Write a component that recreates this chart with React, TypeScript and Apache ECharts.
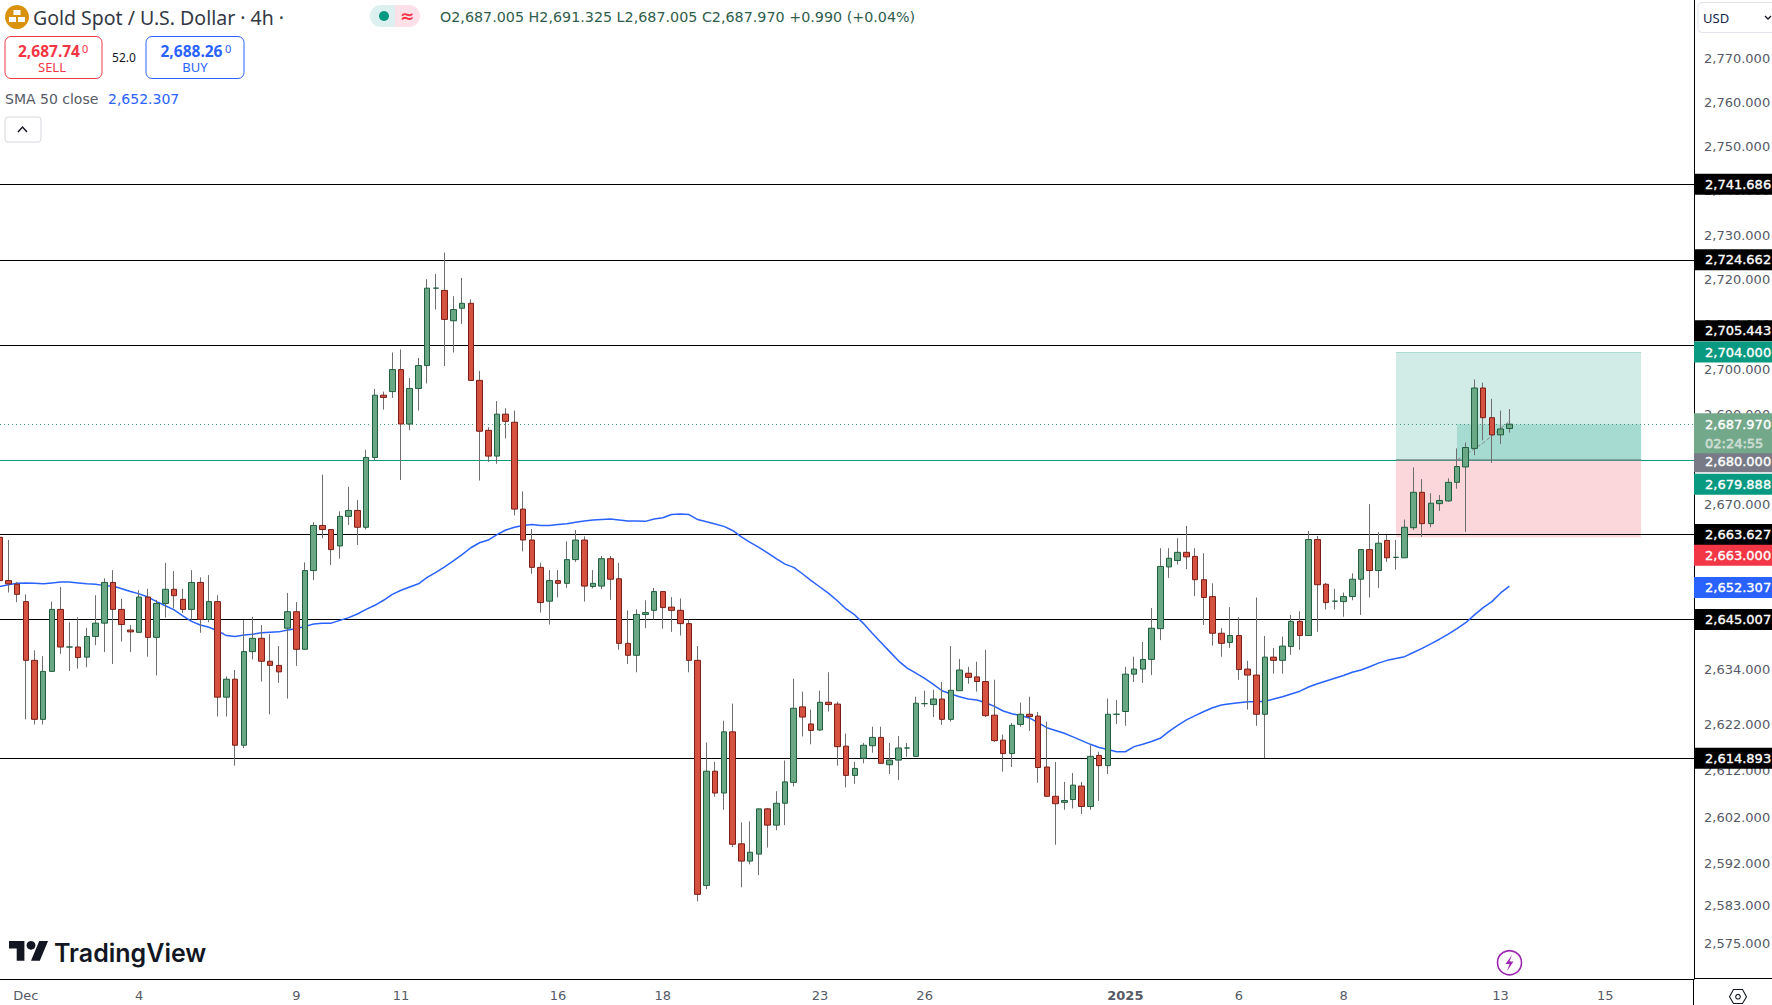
import React, { useEffect, useRef } from "react";
import * as echarts from "echarts";

const opens = [
  2663.0,2653.5,2652.7,2648.9,2636.1,2623.3,2633.7,2647.2,2639.0,2639.0,
  2636.8,2641.3,2644.2,2653.1,2647.2,2642.7,2642.2,2649.9,2641.1,2648.5,
  2651.6,2649.4,2647.2,2653.1,2645.0,2648.9,2628.1,2632.0,2617.7,2638.0,
  2640.9,2635.9,2635.0,2643.1,2646.7,2638.5,2655.7,2665.6,2664.7,2661.1,
  2667.6,2668.9,2665.2,2680.6,2694.4,2695.2,2700.1,2688.0,2695.9,2701.0,
  2718.3,2717.8,2711.0,2713.8,2714.9,2697.7,2686.6,2680.9,2690.2,2688.4,
  2669.2,2662.4,2656.4,2649.0,2653.5,2652.9,2658.1,2662.4,2652.2,2652.3,
  2658.3,2653.9,2639.8,2637.2,2646.1,2647.0,2651.1,2647.7,2647.0,2644.1,
  2636.1,2587.6,2612.1,2607.4,2620.6,2596.5,2592.8,2594.3,2604.0,2600.5,
  2605.2,2609.7,2626.0,2622.3,2621.0,2627.0,2626.6,2617.5,2611.2,2614.9,
  2617.6,2619.4,2613.5,2614.5,2617.1,2615.3,2626.7,2626.5,2627.7,2623.3,
  2629.5,2633.3,2632.5,2631.5,2624.2,2618.8,2615.9,2622.2,2624.4,2624.0,
  2613.0,2606.7,2605.4,2606.0,2608.9,2604.5,2615.5,2613.3,2624.4,2625.0,
  2633.1,2634.2,2636.3,2643.0,2656.5,2657.9,2659.7,2658.8,2653.7,2650.0,
  2642.0,2640.0,2641.5,2634.2,2632.9,2624.4,2636.8,2636.1,2639.1,2644.6,
  2641.5,2662.5,2652.7,2649.0,2648.9,2650.0,2653.8,2660.3,2655.7,2662.3,
  2658.6,2658.5,2665.1,2672.9,2666.0,2670.4,2671.0,2675.1,2678.5,2682.6,
  2696.0,2689.4,2685.6,2687.005,
];
const closes = [
  2653.5,2652.8,2650.5,2636.1,2623.3,2633.7,2647.2,2639.0,2639.0,2636.7,
  2641.3,2644.2,2653.1,2647.2,2643.9,2642.3,2649.9,2641.1,2648.5,2651.6,
  2650.2,2647.2,2653.1,2645.0,2648.9,2628.1,2632.0,2617.7,2638.0,2640.9,
  2635.9,2635.0,2633.6,2646.7,2638.5,2655.7,2665.6,2664.7,2660.3,2667.6,
  2668.9,2665.2,2680.6,2694.4,2693.9,2700.1,2688.0,2695.9,2701.0,2718.3,
  2718.3,2711.3,2713.5,2714.9,2697.7,2686.4,2680.9,2690.2,2688.6,2669.2,
  2662.4,2656.4,2648.7,2653.5,2652.9,2658.1,2662.4,2652.3,2652.9,2658.3,
  2653.8,2639.8,2637.2,2646.1,2646.5,2651.1,2647.6,2647.0,2644.1,2636.1,
  2585.7,2612.1,2607.4,2620.6,2596.4,2592.8,2594.7,2604.0,2600.5,2605.2,
  2609.8,2625.7,2623.8,2620.9,2627.0,2626.5,2617.4,2611.2,2612.7,2617.7,
  2619.4,2613.8,2614.5,2617.1,2617.1,2626.8,2626.7,2627.7,2623.3,2629.6,
  2634.0,2632.4,2631.5,2624.1,2618.7,2615.9,2622.0,2624.4,2623.9,2612.9,
  2606.7,2605.1,2605.8,2609.1,2604.5,2615.3,2613.3,2624.4,2624.4,2633.1,
  2634.2,2636.3,2643.1,2656.6,2658.4,2659.7,2658.7,2653.7,2649.8,2642.0,
  2639.8,2641.5,2634.1,2632.9,2624.4,2636.8,2636.1,2639.2,2644.6,2641.5,
  2662.5,2652.6,2648.7,2649.0,2650.0,2653.8,2660.3,2655.7,2661.7,2658.5,
  2658.6,2665.2,2672.9,2666.0,2670.5,2671.1,2675.1,2678.6,2682.8,2696.0,
  2689.4,2685.6,2686.9,2687.97,
];
const highs = [
  2663.8,2662.4,2653.2,2650.5,2638.3,2637.0,2648.9,2652.1,2644.4,2645.5,
  2643.2,2650.3,2654.0,2655.8,2649.5,2643.8,2651.4,2651.7,2649.3,2657.4,
  2655.6,2651.7,2655.8,2654.2,2654.7,2650.3,2632.6,2634.0,2644.9,2645.6,
  2643.8,2641.8,2639.2,2650.8,2648.8,2657.5,2666.3,2676.8,2664.7,2668.7,
  2674.1,2671.2,2682.3,2695.8,2695.2,2703.9,2704.6,2698.2,2702.7,2720.3,
  2721.5,2726.3,2716.5,2720.6,2715.8,2699.8,2687.3,2693.1,2691.5,2691.0,
  2673.1,2664.8,2657.4,2655.8,2655.8,2662.1,2664.6,2663.2,2655.8,2658.9,
  2658.9,2657.4,2647.0,2647.2,2649.2,2651.9,2651.1,2649.9,2649.6,2645.0,
  2639.2,2618.3,2614.1,2623.0,2626.7,2601.1,2601.3,2604.0,2604.2,2607.8,
  2614.4,2632.1,2629.3,2625.4,2629.5,2633.5,2627.1,2620.2,2614.1,2618.2,
  2621.7,2621.7,2618.2,2619.7,2618.2,2628.2,2629.5,2629.7,2631.4,2639.2,
  2636.4,2634.7,2635.8,2638.4,2631.9,2620.0,2622.5,2626.9,2628.2,2624.9,
  2622.8,2614.1,2609.8,2611.7,2609.8,2617.9,2616.3,2627.8,2627.5,2634.7,
  2636.9,2640.1,2647.5,2660.6,2660.6,2662.8,2665.5,2660.6,2659.5,2652.9,
  2643.1,2647.7,2645.5,2636.0,2649.8,2641.4,2638.8,2641.3,2646.0,2646.8,
  2664.4,2663.3,2653.0,2651.7,2650.9,2655.1,2660.3,2670.3,2664.1,2663.5,
  2662.4,2666.9,2678.4,2675.8,2672.7,2672.3,2676.0,2682.6,2683.9,2697.9,
  2697.2,2693.6,2691.0,2691.325,
];
const lows = [
  2652.9,2650.9,2648.8,2623.3,2622.2,2622.2,2633.7,2637.5,2633.8,2634.3,
  2634.6,2639.4,2637.9,2635.3,2640.2,2637.9,2642.2,2636.9,2632.8,2645.4,
  2647.4,2646.4,2645.0,2642.1,2644.4,2623.9,2623.9,2613.3,2617.1,2636.3,
  2631.5,2624.4,2631.2,2627.8,2634.9,2638.5,2653.6,2662.8,2656.9,2658.3,
  2665.7,2661.3,2664.7,2680.0,2691.2,2693.8,2675.6,2686.6,2691.0,2697.0,
  2713.5,2700.9,2703.9,2710.3,2697.7,2675.5,2679.6,2679.2,2684.8,2667.8,
  2659.9,2655.0,2646.5,2643.9,2649.8,2651.9,2657.6,2648.9,2651.8,2651.6,
  2649.3,2638.4,2635.3,2633.5,2643.1,2645.0,2643.0,2642.3,2641.5,2633.5,
  2584.2,2586.8,2606.6,2603.8,2595.8,2587.2,2592.1,2589.8,2595.7,2599.4,
  2600.5,2608.8,2619.6,2617.9,2620.8,2625.0,2613.3,2608.6,2609.4,2613.8,
  2616.1,2613.8,2611.5,2610.2,2615.2,2615.3,2626.0,2623.8,2622.1,2622.8,
  2629.5,2631.0,2629.3,2623.8,2618.4,2612.0,2613.0,2621.7,2620.8,2609.6,
  2606.7,2596.3,2603.8,2604.1,2602.9,2603.8,2605.7,2611.5,2622.3,2621.9,
  2631.4,2631.2,2632.9,2640.5,2654.1,2657.0,2656.0,2650.1,2643.8,2639.3,
  2636.9,2638.8,2631.9,2625.4,2621.9,2614.9,2633.2,2633.2,2637.3,2638.4,
  2641.5,2642.3,2647.2,2647.2,2645.6,2649.2,2646.0,2649.8,2651.9,2657.6,
  2655.9,2658.5,2664.6,2663.1,2665.2,2668.8,2670.8,2673.7,2664.2,2681.1,
  2684.4,2679.4,2683.6,2686.1,
];
const sma50 = [
  2652.2,2652.6,2652.9,2653.0,2652.9,2652.8,2653.0,2653.2,2653.2,2653.0,
  2652.8,2652.7,2652.4,2652.3,2651.7,2651.1,2650.6,2649.9,2648.9,2648.0,
  2647.1,2645.8,2644.6,2643.8,2643.3,2642.5,2641.5,2641.3,2641.6,2641.8,
  2642.1,2642.2,2642.3,2642.7,2643.0,2643.5,2644.0,2644.2,2644.2,2644.8,
  2645.4,2646.2,2647.2,2648.1,2649.2,2650.5,2651.4,2652.1,2652.8,2654.2,
  2655.3,2656.5,2657.8,2659.2,2660.7,2661.8,2662.4,2663.6,2664.6,2665.2,
  2665.6,2665.8,2665.6,2665.6,2665.8,2666.0,2666.3,2666.6,2666.8,2666.9,
  2667.0,2666.8,2666.6,2666.6,2666.5,2667.0,2667.3,2668.0,2668.1,2668.0,
  2666.9,2666.4,2665.9,2665.4,2664.5,2663.1,2661.9,2660.8,2659.6,2658.3,
  2657.1,2656.4,2655.0,2653.5,2652.1,2650.7,2649.1,2647.3,2646.0,2644.1,
  2642.0,2640.0,2638.0,2636.0,2634.4,2633.3,2632.2,2630.9,2629.5,2628.8,
  2628.2,2627.7,2627.5,2626.9,2626.1,2625.1,2624.5,2624.1,2623.6,2622.6,
  2621.5,2620.9,2620.3,2619.5,2618.7,2617.9,2617.2,2616.8,2616.3,2616.3,
  2617.4,2617.9,2618.5,2619.2,2620.7,2622.0,2623.2,2624.1,2625.0,2625.8,
  2626.4,2626.7,2626.9,2627.1,2627.1,2627.2,2627.7,2628.2,2628.8,2629.4,
  2630.3,2631.0,2631.6,2632.2,2632.8,2633.5,2634.0,2634.7,2635.5,2636.1,
  2636.5,2636.9,2637.8,2638.7,2639.7,2640.7,2641.8,2643.0,2644.3,2646.0,
  2647.6,2648.9,2650.8,2652.307,
];

const dateIndexes = [3, 16, 34, 46, 64, 76, 94, 106, 129, 142, 154, 172, 184];
const dateLabels = ["Dec", "4", "9", "11", "16", "18", "23", "26", "2025", "6", "8", "13", "15"];

const priceTicks = [2770, 2760, 2750, 2740, 2730, 2720, 2710, 2700, 2690, 2680, 2670, 2658, 2646, 2634, 2622, 2612, 2602, 2592, 2583, 2575];
const levelValues = [2741.686, 2724.662, 2705.443, 2663.627, 2645.007, 2614.893];
const levelNames = ["2,741.686", "2,724.662", "2,705.443", "2,663.627", "2,645.007", "2,614.893"];

const lastPrice = 2687.97;
const takeProfit = 2704;
const entry = 2680;
const stopLoss = 2663;
const entryTag = 2679.888;
const positionStart = 160;
const positionEntry = 167;
const positionEnd = 188.1;
const pathX = [167, 170, 173];
const pathY = [2680, 2683.8, 2688.6];

const FONT = "'DejaVu Sans', sans-serif";
const HEAD = "'Noto Sans', sans-serif";
const W = 1772;
const H = 1005;
const PLOT_R = 1694;
const PLOT_B = 979;
const STEP = 8.727;
const X0 = -0.43;
const CLEAR = "rgba(0,0,0,0)";

echarts.graphic.registerShape("tvLogo", echarts.graphic.extendPath("M14 22H7V11H0V4h14v18zM28 22h-8l7.5-18h8L28 22z", {}) as any);

function fmt(v: number) {
  const s = v.toFixed(3);
  return s.slice(0, 1) + "," + s.slice(1);
}

function tagLabel(str: string, bg: string, dy: number, extra: any = {}) {
  return {
    show: true,
    position: "end",
    distance: 0,
    formatter: str,
    color: "#ffffff",
    fontFamily: FONT,
    fontSize: 13,
    textBorderColor: "#ffffff",
    textBorderWidth: 0.35,
    backgroundColor: bg,
    width: 67,
    lineHeight: 17,
    padding: [2, 0, 2, 11],
    align: "left",
    offset: [0, dy],
    ...extra,
  };
}

function text(x: number, y: number, str: string, font: string, fill: string, align = "left") {
  return { type: "text", silent: true, z: 200, style: { x, y, text: str, font, fill, align, verticalAlign: "middle" } };
}

function rect(x: number, y: number, w: number, h: number, r: number, fill: string, stroke: string) {
  return { type: "rect", silent: true, z: 190, shape: { x, y, width: w, height: h, r }, style: { fill, stroke, lineWidth: 1 } };
}

function buildGraphic() {
  return [
    { type: "line", silent: true, z: 150, shape: { x1: PLOT_R - 0.5, y1: PLOT_B, x2: PLOT_R - 0.5, y2: H }, style: { stroke: "#000", lineWidth: 1 } },
    { type: "line", silent: true, z: 150, shape: { x1: PLOT_R, y1: PLOT_B - 0.5, x2: W, y2: PLOT_B - 0.5 }, style: { stroke: "#000", lineWidth: 1 } },

    { type: "circle", silent: true, z: 190, shape: { cx: 17, cy: 17, r: 12 }, style: { fill: "#d9920b" } },
    { type: "rect", silent: true, z: 200, shape: { x: 13.5, y: 10, width: 7, height: 5 }, style: { fill: "#fff" } },
    { type: "rect", silent: true, z: 200, shape: { x: 9, y: 17, width: 7, height: 5 }, style: { fill: "#fff" } },
    { type: "rect", silent: true, z: 200, shape: { x: 18, y: 17, width: 7, height: 5 }, style: { fill: "#fff" } },
    text(33, 17, "Gold Spot / U.S. Dollar · 4h ·", `19.5px ${HEAD}`, "#333844"),

    { type: "rect", silent: true, z: 190, shape: { x: 370, y: 5, width: 25, height: 22, r: [11, 0, 0, 11] }, style: { fill: "#dcf0f0" } },
    { type: "rect", silent: true, z: 190, shape: { x: 395, y: 5, width: 25, height: 22, r: [0, 11, 11, 0] }, style: { fill: "#fde0e8" } },
    { type: "circle", silent: true, z: 200, shape: { cx: 384, cy: 16, r: 5 }, style: { fill: "#089981" } },
    text(407, 16, "≈", `bold 17px ${FONT}`, "#f23645", "center"),
    text(440, 17, "O2,687.005 H2,691.325 L2,687.005 C2,687.970 +0.990 (+0.04%)", `14.3px ${FONT}`, "#2f5d4c"),

    rect(5, 36.5, 97, 42, 6, "#fff", "#f23645"),
    text(18, 51, "2,687.74", `bold 15.5px ${HEAD}`, "#f23645"),
    text(82, 48, "0", `11px ${HEAD}`, "#f23645"),
    text(52, 67, "SELL", `13px ${HEAD}`, "#f23645", "center"),
    text(124, 57, "52.0", `12px ${HEAD}`, "#131722", "center"),
    rect(146, 36.5, 98, 42, 6, "#fff", "#2962ff"),
    text(160.5, 51, "2,688.26", `bold 15.5px ${HEAD}`, "#2962ff"),
    text(225, 48, "0", `11px ${HEAD}`, "#2962ff"),
    text(195, 67, "BUY", `13px ${HEAD}`, "#2962ff", "center"),
    text(5, 99, "SMA 50 close", `14px ${FONT}`, "#555a66"),
    text(108, 99, "2,652.307", `14px ${FONT}`, "#2962ff"),
    rect(5, 117, 36, 25, 3, "#fff", "#d6d8de"),
    { type: "polyline", silent: true, z: 200, shape: { points: [[18, 132], [22.5, 127], [27, 132]] }, style: { fill: "none", stroke: "#131722", lineWidth: 1.4 } },

    rect(1698, 2.5, 84, 30, 4, "#fff", "#e0e3eb"),
    text(1703, 18, "USD", `13px ${HEAD}`, "#131f4f"),
    { type: "polyline", silent: true, z: 200, shape: { points: [[1765, 16], [1768, 19], [1771, 16]] }, style: { fill: "none", stroke: "#131722", lineWidth: 1.3 } },

    { type: "tvLogo", silent: true, z: 200, x: 9, y: 936.5, scaleX: 1.1, scaleY: 1.1, style: { fill: "#131722" } },
    { type: "circle", silent: true, z: 200, shape: { cx: 31, cy: 945.3, r: 4.4 }, style: { fill: "#131722" } },
    text(54, 953, "TradingView", `600 25px Inter, sans-serif`, "#131722"),

    { type: "circle", silent: true, z: 200, shape: { cx: 1509.5, cy: 962.7, r: 12 }, style: { fill: "#fff", stroke: "#9c27b0", lineWidth: 1.6 } },
    { type: "polygon", silent: true, z: 201, shape: { points: [[1512, 955], [1505.5, 964], [1509.5, 964], [1507, 971], [1513.5, 961.5], [1509.5, 961.5]] }, style: { fill: "#9c27b0" } },

    { type: "polygon", silent: true, z: 200, shape: { points: [[1733.5, 989.5], [1742.5, 989.5], [1746.5, 996.7], [1742.5, 1003.5], [1733.5, 1003.5], [1729.5, 996.7]] }, style: { fill: "#fff", stroke: "#131722", lineWidth: 1.1 } },
    { type: "circle", silent: true, z: 201, shape: { cx: 1738, cy: 996.7, r: 2.3 }, style: { fill: "#fff", stroke: "#131722", lineWidth: 1.1 } },
  ];
}

function buildOption(): any {
  const xs = opens.map((_, i) => i);
  const wicks = xs.map((i) => [i, opens[i], closes[i], lows[i], highs[i]]);
  const bodies = xs.map((i) => [i, opens[i], closes[i], Math.min(opens[i], closes[i]), Math.max(opens[i], closes[i])]);
  const last = sma50[sma50.length - 1];

  const tagData: any[] = [
    ...levelValues.map((v, i) => ({ yAxis: v, label: tagLabel(levelNames[i], "#000000", i === 2 ? -15 : 0) })),
    { yAxis: takeProfit, label: tagLabel(fmt(takeProfit), "#089981", 0) },
    { yAxis: entry, label: tagLabel(fmt(entry), "#787b86", 1.5) },
    { yAxis: entryTag, label: tagLabel(fmt(entryTag), "#089981", 23.5) },
    { yAxis: stopLoss, label: tagLabel(fmt(stopLoss), "#f23645", 18) },
    { yAxis: last, label: tagLabel(fmt(last), "#2962ff", 1.5) },
    {
      yAxis: lastPrice,
      label: tagLabel("{a|" + fmt(lastPrice) + "}\n{b|02:24:55}", "#73a98a", 9, {
        padding: [1, 0, 1, 11],
        rich: {
          a: { color: "#fff", fontFamily: FONT, fontSize: 13, textBorderColor: "#fff", textBorderWidth: 0.35, lineHeight: 20 },
          b: { color: "#cfdcd4", fontFamily: FONT, fontSize: 13, lineHeight: 18 },
        },
      }),
    },
  ];

  return {
    animation: false,
    backgroundColor: "#ffffff",
    graphic: buildGraphic(),
    grid: { left: 0, top: 0, right: W - PLOT_R, bottom: H - PLOT_B, containLabel: false },
    xAxis: {
      type: "value",
      min: (0 - X0) / STEP,
      max: (PLOT_R - X0) / STEP,
      splitLine: { show: false },
      axisTick: { show: false },
      axisLine: { show: true, onZero: false, lineStyle: { color: "#000", width: 1 } },
      axisLabel: {
        show: true,
        customValues: dateIndexes,
        margin: 10,
        color: "#555a66",
        fontFamily: FONT,
        fontSize: 13,
        formatter: (v: number) => {
          const s = dateLabels[dateIndexes.indexOf(Math.round(v))] ?? "";
          return s === "2025" ? "{b|2025}" : s;
        },
        rich: { b: { fontWeight: "bold", color: "#555a66", fontFamily: FONT, fontSize: 13 } },
      },
    },
    yAxis: {
      type: "log",
      logBase: 10,
      min: 2567.7,
      max: 2783.7,
      position: "right",
      splitLine: { show: false },
      axisTick: { show: false },
      axisLabel: { show: false },
      axisLine: { show: true, onZero: false, lineStyle: { color: "#000", width: 1 } },
    },
    series: [
      {
        type: "line",
        data: [],
        silent: true,
        z: 1,
        markArea: {
          silent: true,
          z: 1,
          data: [
            [{ xAxis: positionStart, yAxis: takeProfit, itemStyle: { color: "#d1ebe6" } }, { xAxis: positionEnd, yAxis: entry }],
            [{ xAxis: positionStart, yAxis: entry, itemStyle: { color: "#fbd7db" } }, { xAxis: positionEnd, yAxis: stopLoss }],
            [{ xAxis: positionEntry, yAxis: lastPrice, itemStyle: { color: "#a6dbd2" } }, { xAxis: positionEnd, yAxis: entry }],
          ],
        },
      },
      {
        type: "line",
        data: [],
        silent: true,
        z: 2,
        markLine: {
          silent: true,
          z: 2,
          symbol: "none",
          animation: false,
          label: { show: false },
          data: [
            ...levelValues.map((v) => ({ yAxis: v, lineStyle: { color: "#000", width: 1.2, type: "solid" } })),
            { yAxis: entry, lineStyle: { color: "#089981", width: 1, type: "solid" } },
            { yAxis: lastPrice, lineStyle: { color: "#3f9c72", width: 1, type: [1, 3] } },
            [
              { coord: [positionStart, entry], lineStyle: { color: "#6f8f8a", width: 1.5, type: "solid" } },
              { coord: [positionEnd, entry] },
            ],
            [
              { coord: [positionStart, takeProfit], lineStyle: { color: "#aedbd3", width: 1, type: "solid" } },
              { coord: [positionEnd, takeProfit] },
            ],
          ],
        },
      },
      {
        type: "line",
        name: "position path",
        silent: true,
        z: 3,
        symbol: "none",
        lineStyle: { color: "#8a8a8a", width: 1, type: "dashed" },
        data: pathX.map((x, i) => [x, pathY[i]]),
      },
      {
        type: "line",
        name: "SMA 50",
        silent: true,
        z: 3,
        symbol: "none",
        lineStyle: { color: "#2962ff", width: 1.5 },
        data: xs.map((i) => [i, sma50[i]]),
      },
      {
        type: "candlestick",
        name: "wicks",
        silent: true,
        layout: "horizontal",
        z: 4,
        barWidth: 1,
        encode: { x: 0, y: [1, 2, 3, 4] },
        itemStyle: { color: "#6e6e6e", color0: "#6e6e6e", borderColor: "#6e6e6e", borderColor0: "#6e6e6e", borderColorDoji: "#6e6e6e", borderWidth: 1 },
        data: wicks,
      },
      {
        type: "candlestick",
        name: "bodies",
        silent: true,
        layout: "horizontal",
        z: 5,
        barWidth: 6,
        encode: { x: 0, y: [1, 2, 3, 4] },
        itemStyle: { color: "#6aa885", color0: "#d65240", borderColor: "#1f5e3e", borderColor0: "#7a1e17", borderColorDoji: "#1f5e3e", borderWidth: 1 },
        data: bodies,
      },
      {
        type: "line",
        data: [],
        silent: true,
        z: 6,
        markLine: {
          silent: true,
          z: 6,
          symbol: "none",
          animation: false,
          lineStyle: { color: CLEAR, width: 1 },
          data: priceTicks.map((v) => ({
            yAxis: v,
            label: { show: true, position: "end", distance: 10, formatter: fmt(v), color: "#555a66", fontFamily: FONT, fontSize: 13, offset: [0, -1] },
          })),
        },
      },
      {
        type: "line",
        data: [],
        silent: true,
        z: 7,
        markLine: {
          silent: true,
          z: 7,
          symbol: "none",
          animation: false,
          lineStyle: { color: CLEAR, width: 1 },
          data: tagData,
        },
      },
    ],
  };
}

export default function App() {
  const ref = useRef<HTMLDivElement>(null);
  useEffect(() => {
    document.body.style.margin = "0";
    const chart = echarts.init(ref.current!, null, { renderer: "svg", width: W, height: H });
    chart.setOption(buildOption());
    return () => chart.dispose();
  }, []);
  return <div ref={ref} style={{ position: "absolute", left: 0, top: 0, width: W, height: H }} />;
}
